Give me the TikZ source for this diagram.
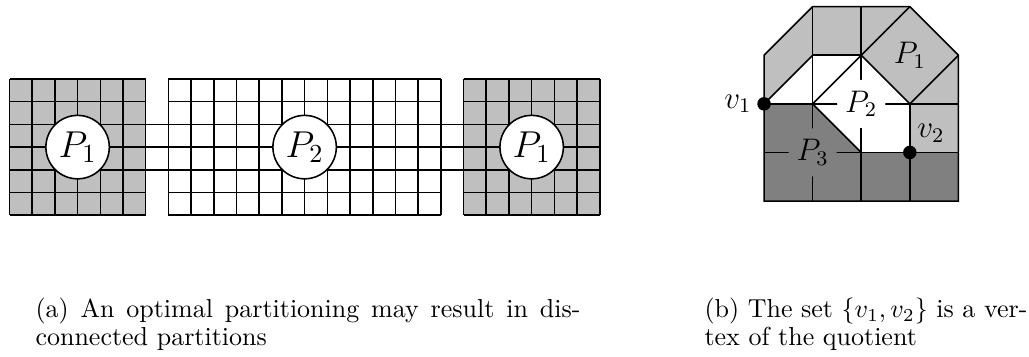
\documentclass[tikz,border=0pt]{standalone}
\definecolor{lg}{gray}{0.75}
\definecolor{dg}{gray}{0.5}
\tikzset{
  gl/.style={line width=0.6pt},
  pcirc/.style={circle, draw, line width=0.6pt, fill=white, minimum size=24.4pt, inner sep=0pt, font=\fontsize{14.4}{17}\selectfont},
  plab/.style={circle, inner sep=0pt, minimum size=18.5pt, font=\fontsize{12}{14}\selectfont},
  vdot/.style={circle, fill=black, inner sep=0pt, minimum size=5.2pt},
  vlab/.style={inner sep=0pt, font=\fontsize{12}{14}\selectfont},
  capt/.style={inner sep=0pt, anchor=north west, align=justify, font=\fontsize{10}{10.8}\selectfont},
}
\begin{document}
\begin{tikzpicture}[x=0.3846pt, y=-0.3846pt]
\useasboundingbox (0,0) rectangle (1029,356);
% (a)
\begin{scope}[xshift=3.654pt, yshift=-30.38pt, x=8.731pt, y=-8.731pt, gl]
  \fill[lg] (0,0) rectangle (6,6);
  \fill[lg] (20,0) rectangle (26,6);
  \foreach \c in {0,...,6} {
    \draw (\c,0) -- (\c,6);
    \draw (\c+20,0) -- (\c+20,6);
  }
  \foreach \c in {7,...,19} { \draw (\c,0) -- (\c,6); }
  \foreach \r in {0,1,5,6} {
    \draw (0,\r) -- (6,\r);
    \draw (7,\r) -- (19,\r);
    \draw (20,\r) -- (26,\r);
  }
  \foreach \r in {2,3,4} { \draw (0,\r) -- (26,\r); }
  \node[pcirc] (pa1) at (3,3) {$P_1$};
  \node[pcirc] (pa2) at (13,3) {$P_2$};
  \node[pcirc] (pa3) at (23,3) {$P_1$};
\end{scope}
% (b)
\begin{scope}[xshift=293.85pt, yshift=-77.31pt, x=18.69pt, y=18.69pt]
  \fill[lg] (0,2) -- (0,3) -- (1,4) -- (3,4) -- (4,3) -- (4,1) -- (3,1) -- (3,2) -- (2,3) -- (1,3) -- cycle;
  \fill[dg] (0,0) -- (4,0) -- (4,1) -- (2,1) -- (1,2) -- (0,2) -- cycle;
  \begin{scope}[gl]
    \draw (0,0) -- (4,0) -- (4,3) -- (3,4) -- (1,4) -- (0,3) -- cycle;
    \draw (1,0) -- (1,4);
    \draw (2,0) -- (2,4);
    \draw (3,0) -- (3,2);
    \draw (0,1) -- (4,1);
    \draw (0,2) -- (4,2);
    \draw (1,3) -- (2,3);
    \draw (0,2) -- (1,3);
    \draw (1,2) -- (2,3) -- (3,4);
    \draw (2,3) -- (3,2) -- (4,3);
    \draw (1,2) -- (2,1);
  \end{scope}
  \node[plab] (pb1) at (3,3) {$P_1$};
  \node[plab, fill=white] (pb2) at (2,2) {$P_2$};
  \node[plab, fill=dg] (pb3) at (1,1) {$P_3$};
  \node[vdot] (v1) at (0,2) {};
  \node[vdot] (v2) at (3,1) {};
  \node[vlab, anchor=east] (lv1) at ([xshift=-4.6pt]v1.center) {$v_1$};
  \node[vlab, anchor=south west] (lv2) at ([xshift=2.7pt,yshift=3.6pt]v2.center) {$v_2$};
\end{scope}
% captions
\node[capt, text width=209.6pt] (capa) at (35,297.2) {(a) An optimal partitioning may result in dis-\linebreak connected partitions};
\node[capt, text width=124.2pt] (capb) at (704,297.2) {(b) The set $\{v_1, v_2\}$ is a ver-\linebreak tex of the quotient};
\end{tikzpicture}
\end{document}
